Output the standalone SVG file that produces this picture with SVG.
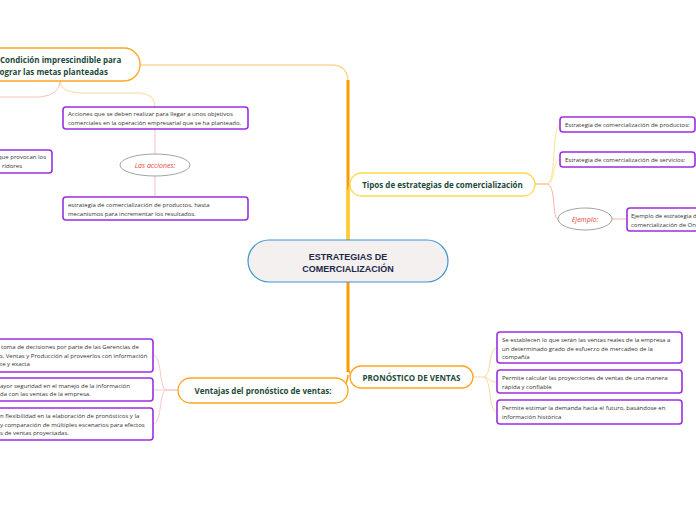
<svg xmlns="http://www.w3.org/2000/svg" width="696" height="520" viewBox="0 0 696 520">
<style>
.t{font-family:"Open Sans","Liberation Sans",sans-serif;font-size:6px;fill:#333}
.h{font-family:"Open Sans","Liberation Sans",sans-serif;font-size:8px;font-weight:bold;fill:#1d4a3a}
.box{fill:#fff;stroke:#9a2fe0;stroke-width:1.6}
.ora{fill:#fff;stroke:#ffa51f;stroke-width:1.3}
.ell{fill:#fff;stroke:#8a8a8a;stroke-width:0.8}
.it{font-family:"Open Sans","Liberation Sans",sans-serif;font-size:7px;font-style:italic;fill:#e8433a}
.c{fill:none}
</style>
<rect width="696" height="520" fill="#fff"/>
<g id="connectors" class="c">
  <path d="M348,240 V82 Q348,65 331,65 H140" stroke="#ffd699" stroke-width="1.5" fill="none"/>
  <path d="M348,240 V80" stroke="#ff9a00" stroke-width="3" fill="none"/>
  <path d="M348,240 V190" stroke="#ffcc2a" stroke-width="3" fill="none"/>
  <path d="M348,190 Q348,184 356,184" stroke="#ffcc2a" stroke-width="1.2" fill="none"/>
  <path d="M348,282 V372" stroke="#ff9a00" stroke-width="3" fill="none"/>
  <path d="M348,368 Q349,377 360,377" stroke="#ff9a00" stroke-width="1.5" fill="none"/>
  <path d="M348,375 Q347,389 336,390" stroke="#ff9a00" stroke-width="1.5" fill="none"/>
  <!-- Condicion children -->
  <path d="M60,81 Q60,92 80,93 H140 Q155,94 155,107" stroke="#ffd699" stroke-width="1" fill="none"/>
  <path d="M60,81 Q60,95 40,97 H0" stroke="#f7c2c2" stroke-width="1" fill="none"/>
  <path d="M155,129 V154" stroke="#f4c2c2" stroke-width="1" fill="none"/>
  <path d="M155,176 V197" stroke="#f4c2c2" stroke-width="1" fill="none"/>
  <!-- Tipos children -->
  <path d="M535,184 H548" stroke="#ffa54a" stroke-width="1" fill="none"/>
  <path d="M548,184 C556,180 552,125 560,125" stroke="#ffe38a" stroke-width="1" fill="none"/>
  <path d="M548,184 C556,180 552,160 560,160" stroke="#ffe38a" stroke-width="1" fill="none"/>
  <path d="M548,184 C556,188 552,219 558,219" stroke="#f6b3a8" stroke-width="1" fill="none"/>
  <path d="M612,219 H627" stroke="#f6b3a8" stroke-width="1" fill="none"/>
  <path d="M695,160 H700" stroke="#ffd699" stroke-width="1" fill="none"/>
  <!-- Pronostico children -->
  <path d="M473,377 H484" stroke="#ffd699" stroke-width="1" fill="none"/>
  <path d="M484,377 C492,374 488,348 497,348" stroke="#ffd699" stroke-width="1" fill="none"/>
  <path d="M484,377 C492,379 488,382 497,382" stroke="#ffd699" stroke-width="1" fill="none"/>
  <path d="M484,377 C492,380 488,412 497,412" stroke="#ffd699" stroke-width="1" fill="none"/>
  <!-- Ventajas children -->
  <path d="M178,390 H166" stroke="#f6a7a0" stroke-width="1" fill="none"/>
  <path d="M166,390 C159,388 162,355 153,355" stroke="#f9c8c2" stroke-width="1" fill="none"/>
  <path d="M166,390 H153" stroke="#f9c8c2" stroke-width="1" fill="none"/>
  <path d="M166,390 C159,392 162,424 153,424" stroke="#f9c8c2" stroke-width="1" fill="none"/>
</g>
<g id="central">
  <rect x="248" y="240" width="200" height="42" rx="21" fill="#f4f0ef" stroke="#3a93d4" stroke-width="1.2"/>
  <text x="348" y="260" text-anchor="middle" font-family="Liberation Sans,Arial,sans-serif" font-size="9" font-weight="bold" fill="#1c2a4a">ESTRATEGIAS DE</text>
  <text x="348" y="272" text-anchor="middle" font-family="Liberation Sans,Arial,sans-serif" font-size="9" font-weight="bold" fill="#1c2a4a">COMERCIALIZACIÓN</text>
</g>
<g id="condicion">
  <rect x="-40" y="48" width="180" height="33" rx="16" class="ora"/>
  <text x="0" y="63" class="h">Condición imprescindible para</text>
  <text x="-3" y="75" class="h">lograr las metas planteadas</text>
</g>
<g id="acciones-box">
  <rect x="63" y="107" width="185" height="22" rx="3" class="box"/>
  <text x="68" y="116" class="t">Acciones que se deben realizar para llegar a unos objetivos</text>
  <text x="68" y="125" class="t">comerciales en la operación empresarial que se ha planteado.</text>
</g>
<g id="left-box">
  <rect x="-40" y="150" width="92" height="23" rx="3" class="box"/>
  <text x="46" y="159" text-anchor="end" class="t">que provocan los</text>
  <text x="22" y="168" text-anchor="end" class="t">ridores</text>
</g>
<g id="las-acciones">
  <ellipse cx="155" cy="165" rx="35" ry="11" class="ell"/>
  <text x="155" y="167.5" text-anchor="middle" class="it">Las acciones:</text>
</g>
<g id="estrategia-box">
  <rect x="63" y="197" width="185" height="23" rx="3" class="box"/>
  <text x="68" y="207" class="t">estrategia de comercialización de productos, hasta</text>
  <text x="68" y="216" class="t">mecanismos para incrementar los resultados.</text>
</g>
<g id="tipos">
  <rect x="350" y="173" width="185" height="23" rx="11.5" fill="#fff" stroke="#ffd84a" stroke-width="1.3"/>
  <text x="442.5" y="188" text-anchor="middle" class="h">Tipos de estrategias de comercialización</text>
</g>
<g id="productos">
  <rect x="560" y="117" width="135" height="15" rx="3" class="box"/>
  <text x="565" y="127" class="t">Estrategia de comercialización de productos:</text>
</g>
<g id="servicios">
  <rect x="560" y="152" width="135" height="15" rx="3" class="box"/>
  <text x="565" y="162" class="t">Estrategia de comercialización de servicios:</text>
</g>
<g id="ejemplo">
  <ellipse cx="585" cy="219" rx="27" ry="11" class="ell"/>
  <text x="585" y="221.5" text-anchor="middle" class="it">Ejemplo:</text>
</g>
<g id="ejemplo-box">
  <rect x="627" y="208" width="90" height="23" rx="3" class="box"/>
  <text x="631" y="218" class="t">Ejemplo de estrategia de</text>
  <text x="631" y="227" class="t">comercialización de On</text>
</g>
<g id="pronostico">
  <rect x="350" y="366" width="123" height="22" rx="11" class="ora" stroke="#ff9a00"/>
  <text x="411.5" y="381" text-anchor="middle" class="h">PRONÓSTICO DE VENTAS</text>
</g>
<g id="p1">
  <rect x="497" y="332" width="185" height="31" rx="3" class="box"/>
  <text x="502" y="342" class="t">Se establecen lo que serán las ventas reales de la empresa a</text>
  <text x="502" y="350.5" class="t">un determinado grado de esfuerzo de mercadeo de la</text>
  <text x="502" y="359" class="t">compañía</text>
</g>
<g id="p2">
  <rect x="497" y="370" width="185" height="23" rx="3" class="box"/>
  <text x="502" y="380" class="t">Permite calcular las proyecciones de ventas de una manera</text>
  <text x="502" y="389" class="t">rápida y confiable</text>
</g>
<g id="p3">
  <rect x="497" y="400" width="185" height="24" rx="3" class="box"/>
  <text x="502" y="410" class="t">Permite estimar la demanda hacia el futuro, basándose en</text>
  <text x="502" y="419" class="t">información histórica</text>
</g>
<g id="ventajas">
  <rect x="178" y="378" width="170" height="25" rx="12.5" class="ora"/>
  <text x="263" y="393.5" text-anchor="middle" class="h">Ventajas del pronóstico de ventas:</text>
</g>
<g id="v1">
  <rect x="-40" y="339" width="193" height="33" rx="3" class="box"/>
  <text x="1" y="349" class="t">toma de decisiones por parte de las Gerencias de</text>
  <text x="-1" y="357.5" class="t">o, Ventas y Producción al proveerlos con información</text>
  <text x="0" y="366" class="t">te y exacta</text>
</g>
<g id="v2">
  <rect x="-40" y="378" width="193" height="23" rx="3" class="box"/>
  <text x="0" y="387.5" class="t">ayor seguridad en el manejo de la información</text>
  <text x="0" y="396" class="t">da con las ventas de la empresa.</text>
</g>
<g id="v3">
  <rect x="-40" y="408" width="193" height="32" rx="3" class="box"/>
  <text x="0" y="418" class="t">n flexibilidad en la elaboración de pronósticos y la</text>
  <text x="0" y="426.5" class="t">y comparación de múltiples escenarios para efectos</text>
  <text x="0" y="435" class="t">s de ventas proyectadas.</text>
</g>
</svg>
